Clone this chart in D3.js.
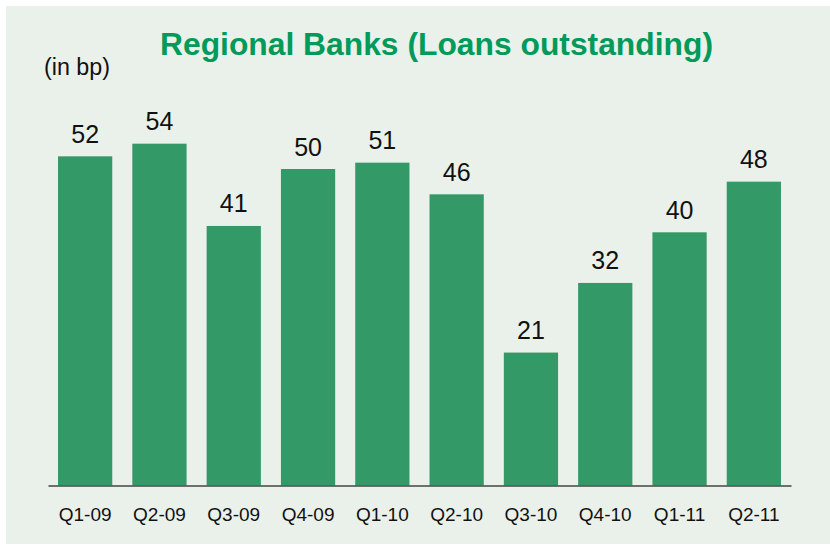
<!DOCTYPE html>
<html>
<head>
<meta charset="utf-8">
<script src="https://cdn.jsdelivr.net/npm/d3@7"></script>
<style>
  html, body { margin: 0; padding: 0; background: #fff; }
  svg { display: block; }
  text { font-family: "Liberation Sans", Arial, sans-serif; }
</style>
</head>
<body>
<svg id="chart" width="830" height="545"></svg>
<script>
var quarters = ['Q1-09', 'Q2-09', 'Q3-09', 'Q4-09', 'Q1-10', 'Q2-10', 'Q3-10', 'Q4-10', 'Q1-11', 'Q2-11'];
var loans = [52, 54, 41, 50, 51, 46, 21, 32, 40, 48];
var title = 'Regional Banks (Loans outstanding)';
var unit = '(in bp)';

var svg = d3.select('#chart');

// panel background
svg.append('rect')
  .attr('x', 6).attr('y', 6)
  .attr('width', 824).attr('height', 538)
  .attr('fill', '#eaf1ea');

var x = d3.scaleBand()
  .domain(quarters)
  .range([48, 791])
  .paddingInner(0.27)
  .paddingOuter(0.135);

var y = d3.scaleLinear()
  .domain([0, 60])
  .range([485.5, 105.7]);

var g = svg.append('g');

g.selectAll('rect.bar')
  .data(loans)
  .enter()
  .append('rect')
  .attr('class', 'bar')
  .attr('x', function(d, i){ return x(quarters[i]); })
  .attr('y', function(d){ return y(d); })
  .attr('width', x.bandwidth())
  .attr('height', function(d){ return y(0) - y(d); })
  .attr('fill', '#339966');

g.selectAll('text.val')
  .data(loans)
  .enter()
  .append('text')
  .attr('class', 'val')
  .attr('x', function(d, i){ return x(quarters[i]) + x.bandwidth() / 2; })
  .attr('y', function(d){ return y(d) - 13.5; })
  .attr('text-anchor', 'middle')
  .attr('font-size', 25)
  .attr('fill', '#111')
  .text(function(d){ return d; });

// x axis
var xAxis = svg.append('g')
  .attr('transform', 'translate(0,' + y(0) + ')')
  .call(d3.axisBottom(x).tickSize(0).tickPadding(0));
xAxis.select('.domain')
  .attr('stroke', '#444')
  .attr('stroke-width', 1.5);
xAxis.selectAll('text')
  .attr('font-family', '"Liberation Sans", Arial, sans-serif')
  .attr('font-size', 19)
  .attr('fill', '#111')
  .attr('dy', null)
  .attr('y', 35.5);

svg.append('text')
  .attr('x', 160).attr('y', 55)
  .attr('font-size', 31)
  .attr('font-weight', 'bold')
  .attr('fill', '#009a5a')
  .attr('textLength', 553)
  .attr('lengthAdjust', 'spacingAndGlyphs')
  .text(title);

svg.append('text')
  .attr('x', 44).attr('y', 75)
  .attr('font-size', 23)
  .attr('fill', '#111')
  .attr('textLength', 66)
  .attr('lengthAdjust', 'spacingAndGlyphs')
  .text(unit);
</script>
</body>
</html>
